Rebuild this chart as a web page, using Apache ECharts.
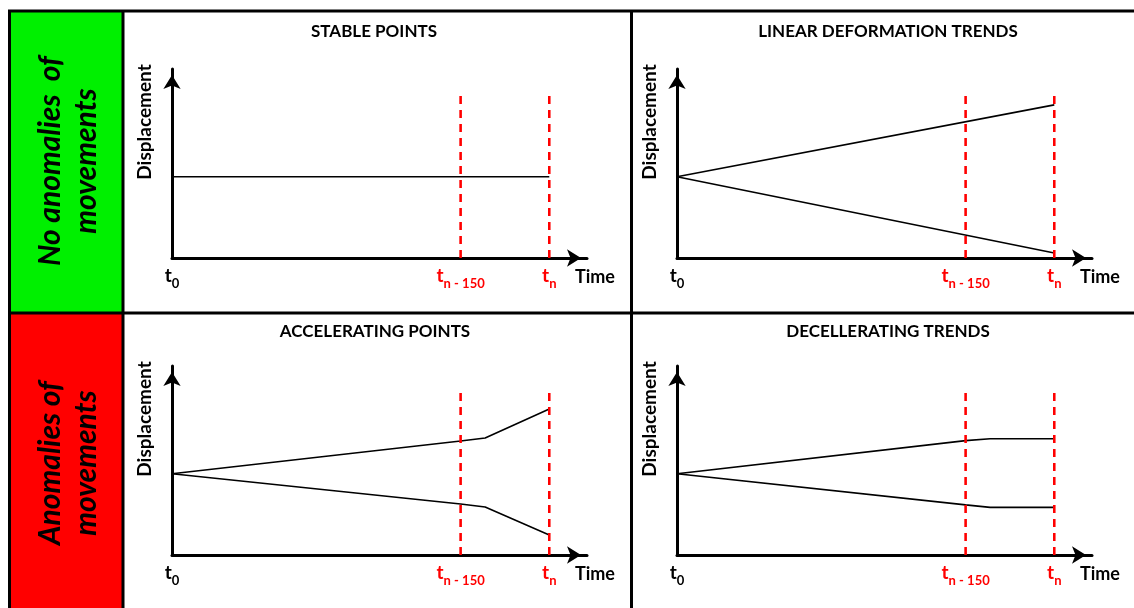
<!DOCTYPE html>
<html>
<head>
<meta charset="utf-8">
<script src="https://cdn.jsdelivr.net/npm/echarts@6/dist/echarts.min.js"></script>
<style>
  html, body { margin: 0; padding: 0; background: #fff; }
  #main { width: 1134px; height: 608px; }
</style>
</head>
<body>
<div id="main"></div>
<script>
// time axis: t0 = 0, t_n = 100
const timeTicks = [0, 76.5, 100];
const tickSubs = ['0', 'n - 150', 'n'];
const markerTop = 86;
const panelTitles = ['STABLE POINTS', 'LINEAR DEFORMATION TRENDS', 'ACCELERATING POINTS', 'DECELLERATING TRENDS'];
const rowLabels = ['No anomalies  of\nmovements', 'Anomalies of\nmovements'];

// displacement curves
const stableX = [0, 100];
const stableY = [43, 43];
const linearX = [0, 100];
const linearUpY = [43, 81];
const linearDownY = [43, 2.6];
const bendX = [0, 76.5, 83, 100];
const accelUpY = [43, 60.3, 61.9, 77.2];
const accelDownY = [43, 27, 25.4, 10.6];
const decelUpY = [43, 60.5, 61.5, 61.5];
const decelDownY = [43, 26.5, 25.2, 25.2];

const FONT = 'Lato, "Open Sans", sans-serif';
const chart = echarts.init(document.getElementById('main'));

const grids = [
  { left: 172, top: 69, width: 415, height: 189 },
  { left: 677, top: 69, width: 415, height: 189 },
  { left: 172, top: 366, width: 415, height: 189 },
  { left: 677, top: 366, width: 415, height: 189 }
];
const titlePos = [[374, 32], [888, 32], [375, 332], [888, 332]];

function arrowLine() {
  return {
    show: true,
    onZero: false,
    symbol: ['none', 'arrow'],
    symbolSize: [13, 14],
    symbolOffset: [0, -6],
    lineStyle: { color: '#000', width: 3 }
  };
}

const xAxes = grids.map((g, i) => ({
  gridIndex: i,
  type: 'value',
  min: 0,
  max: 110,
  axisLine: arrowLine(),
  axisTick: { show: false },
  splitLine: { show: false },
  axisLabel: {
    customValues: timeTicks,
    margin: 8,
    formatter: (v) => {
      const k = timeTicks.indexOf(v);
      const c = k === 0 ? 'k' : 'r';
      return '{' + c + 't|t}{' + c + 's|' + tickSubs[k] + '}';
    },
    rich: {
      kt: { color: '#000', fontSize: 19, fontWeight: 'bold', fontFamily: FONT, verticalAlign: 'bottom', padding: [0, 0, 5, 0] },
      ks: { color: '#000', fontSize: 13, fontWeight: 'bold', fontFamily: FONT, verticalAlign: 'bottom' },
      rt: { color: '#ff0000', fontSize: 19, fontWeight: 'bold', fontFamily: FONT, verticalAlign: 'bottom', padding: [0, 0, 5, 0] },
      rs: { color: '#ff0000', fontSize: 13, fontWeight: 'bold', fontFamily: FONT, verticalAlign: 'bottom' }
    }
  },
  name: 'Time',
  nameLocation: 'end',
  nameGap: -12,
  nameTextStyle: { color: '#000', fontSize: 18, fontWeight: 'bold', fontFamily: FONT, align: 'left', verticalAlign: 'top', padding: [10, 0, 0, 0] }
}));

const yAxes = grids.map((g, i) => ({
  gridIndex: i,
  type: 'value',
  min: 0,
  max: 100,
  axisLine: arrowLine(),
  axisTick: { show: false },
  axisLabel: { show: false },
  splitLine: { show: false },
  name: 'Displacement',
  nameLocation: 'middle',
  nameRotate: 90,
  nameGap: 18,
  nameTextStyle: { color: '#000', fontSize: 19, fontWeight: 'bold', fontFamily: FONT, padding: [0, 0, 0, 83] }
}));

function trend(i, xs, ys) {
  return {
    type: 'line', xAxisIndex: i, yAxisIndex: i,
    data: xs.map((x, k) => [x, ys[k]]),
    symbol: 'none', silent: true, z: 3,
    lineStyle: { color: '#000', width: 1.6 }
  };
}
function marker(i, t) {
  return {
    type: 'line', xAxisIndex: i, yAxisIndex: i,
    data: [[t, 0], [t, markerTop]],
    symbol: 'none', silent: true, z: 4,
    lineStyle: { color: '#ff0000', width: 2.6, type: [8, 6] }
  };
}

const series = [
  trend(0, stableX, stableY),
  trend(1, linearX, linearUpY),
  trend(1, linearX, linearDownY),
  trend(2, bendX, accelUpY),
  trend(2, bendX, accelDownY),
  trend(3, bendX, decelUpY),
  trend(3, bendX, decelDownY)
];
for (let i = 0; i < 4; i++) {
  series.push(marker(i, timeTicks[1]));
  series.push(marker(i, timeTicks[2]));
}

const B = { stroke: '#000', lineWidth: 3 };
const graphics = [
  { type: 'rect', shape: { x: 9, y: 11, width: 114, height: 302 }, style: { fill: '#00f000' }, z: 1 },
  { type: 'rect', shape: { x: 9, y: 313, width: 114, height: 300 }, style: { fill: '#ff0000' }, z: 1 },
  { type: 'line', shape: { x1: 8, y1: 11, x2: 1134, y2: 11 }, style: B, z: 50 },
  { type: 'line', shape: { x1: 9.5, y1: 10, x2: 9.5, y2: 608 }, style: B, z: 50 },
  { type: 'line', shape: { x1: 123, y1: 10, x2: 123, y2: 608 }, style: B, z: 50 },
  { type: 'line', shape: { x1: 631.5, y1: 10, x2: 631.5, y2: 608 }, style: B, z: 50 },
  { type: 'line', shape: { x1: 8, y1: 313, x2: 1134, y2: 313 }, style: B, z: 50 }
];
rowLabels.forEach((t, i) => {
  graphics.push({
    type: 'text', x: 68, y: i === 0 ? 161 : 463, rotation: Math.PI / 2, z: 10,
    style: {
      text: t, fill: '#000', font: 'italic bold 30px ' + FONT, lineHeight: 36,
      align: 'center', verticalAlign: 'middle', textAlign: 'center', textVerticalAlign: 'middle'
    }
  });
});
panelTitles.forEach((t, i) => {
  graphics.push({
    type: 'text', x: titlePos[i][0], y: titlePos[i][1], z: 10,
    style: {
      text: t, fill: '#000', font: 'bold 17px ' + FONT,
      align: 'center', verticalAlign: 'middle', textAlign: 'center', textVerticalAlign: 'middle'
    }
  });
});

chart.setOption({
  animation: false,
  backgroundColor: '#fff',
  grid: grids,
  xAxis: xAxes,
  yAxis: yAxes,
  series: series,
  graphic: { elements: graphics }
});
</script>
</body>
</html>
